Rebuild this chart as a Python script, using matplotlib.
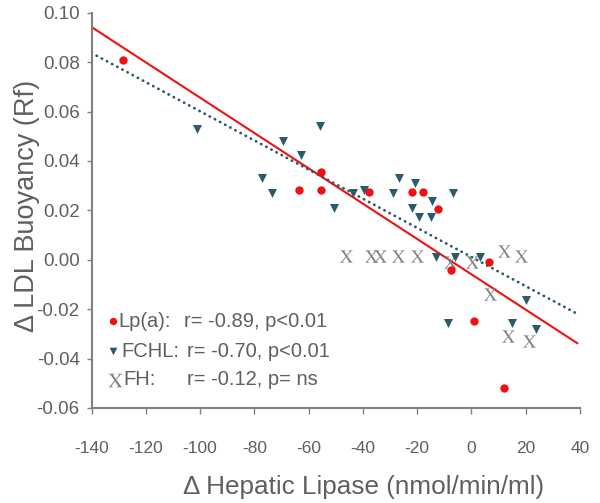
import matplotlib
matplotlib.use("Agg")
import matplotlib.pyplot as plt
import numpy as np

plt.rcParams["font.family"] = ["Liberation Sans", "DejaVu Sans"]
plt.rcParams["mathtext.fontset"] = "stix"
plt.rcParams["axes.unicode_minus"] = False

# Lp(a) group (red dots)
lpa_x = [-128.4, -55.5, -63.7, -55.5, -37.7, -21.8, -17.9, -12.4, -7.6, 6.6, 1.0, 12.1]
lpa_y = [0.0807, 0.0356, 0.0283, 0.0283, 0.0273, 0.0273, 0.0273, 0.0205, -0.0041, -0.0009, -0.0249, -0.052]

# FCHL group (triangles)
fchl_x = [-101.0, -69.5, -55.7, -62.7, -77.1, -73.6, -50.8, -43.8, -39.7, -28.9, -26.7, -20.8,
          -14.4, -21.8, -19.3, -15.0, -6.8, -13.1, -5.9, 3.2, 20.1, -8.7, 15.1, 23.8]
fchl_y = [0.0531, 0.0481, 0.0542, 0.0423, 0.0329, 0.0271, 0.0209, 0.0271, 0.0282, 0.0270, 0.0330, 0.0311,
          0.0237, 0.0208, 0.0174, 0.0174, 0.0271, 0.0010, 0.0010, 0.0010, -0.0161, -0.0255, -0.0255, -0.0282]

# FH group (X)
fh_x = [-46.2, -37.1, -33.7, -27.2, -20.2, -7.9, 0.1, 12.0, 18.1, 6.8, 13.4, 21.3]
fh_y = [0.0015, 0.0015, 0.0015, 0.0015, 0.0015, -0.0008, -0.0008, 0.0036, 0.0014, -0.0139, -0.0307, -0.0327]

# regression lines (slope, intercept)
lpa_fit = (-0.000715, -0.0059)
fchl_fit = (-0.00059, 0.0011)
fit_x = [-140, 39]

legend_labels = ["Lp(a):", "FCHL:", "FH:"]
legend_stats = ["r= -0.89, p<0.01", "r= -0.70, p<0.01", "r= -0.12, p= ns"]

RED = "#ee1111"
TEAL = "#2c5a6b"
GRAY = "#5f5f5f"
XGRAY = "#808080"

fig = plt.figure(figsize=(6.0, 5.03), dpi=100)
ax = fig.add_axes([0.1525, 0.1889, 0.8142, 0.7859])

fx = np.array(fit_x, dtype=float)
ax.plot(fx, np.polyval(lpa_fit, fx), color=RED, lw=1.5, zorder=2)
ax.plot(fx, np.polyval(fchl_fit, fx), color=TEAL, lw=2.0, ls=(0, (0.1, 2.0)),
        dash_capstyle="round", zorder=2)

ax.scatter(fh_x, fh_y, marker=r"$\mathrm{X}$", s=85, color=XGRAY, linewidths=0, zorder=3)
ax.scatter(fchl_x, fchl_y, marker="v", s=42, color=TEAL, linewidths=0, zorder=4)
ax.scatter(lpa_x, lpa_y, marker="o", s=36, color=RED, linewidths=0, zorder=5)

ax.set_xlim(-140, 40)
ax.set_ylim(-0.06, 0.10)
ax.set_xticks(np.arange(-140, 41, 20))
ax.set_yticks(np.arange(-0.06, 0.101, 0.02))
ax.set_yticklabels([f"{v:.2f}" for v in np.arange(-0.06, 0.101, 0.02)])

for s in ["top", "right"]:
    ax.spines[s].set_visible(False)
for s in ["left", "bottom"]:
    ax.spines[s].set_color("#808080")
    ax.spines[s].set_linewidth(1.5)

ax.tick_params(axis="x", direction="out", length=4, width=1, color="#808080",
               labelsize=12.5, labelcolor=GRAY, pad=20)
ax.tick_params(axis="y", direction="out", length=3.5, width=1, color="#808080",
               labelsize=13.5, labelcolor=GRAY, pad=5)

ax.text(0.556, -0.2, "\u0394 Hepatic Lipase (nmol/min/ml)", transform=ax.transAxes,
        ha="center", va="center", fontsize=18.8, color=GRAY)
ax.text(-0.132, 0.511, "\u0394 LDL Buoyancy (Rf)", transform=ax.transAxes, rotation=90,
        ha="center", va="center", fontsize=19.5, color=GRAY)

# legend drawn by hand
rows_y = [0.220, 0.144, 0.072]
label_x = [0.0549, 0.0618, 0.065]
stat_x = [0.19, 0.195, 0.195]
marker_x = [0.0434, 0.0434, 0.048]
ax.scatter([marker_x[0]], [rows_y[0]], transform=ax.transAxes, marker="o", s=28,
           color=RED, linewidths=0, clip_on=False)
ax.scatter([marker_x[1]], [rows_y[1]], transform=ax.transAxes, marker="v", s=30,
           color=TEAL, linewidths=0, clip_on=False)
ax.scatter([marker_x[2]], [rows_y[2]], transform=ax.transAxes, marker=r"$\mathrm{X}$", s=105,
           color=XGRAY, linewidths=0, clip_on=False)
for i in range(3):
    ax.text(label_x[i], rows_y[i], legend_labels[i], transform=ax.transAxes,
            ha="left", va="center", fontsize=14.5, color=GRAY)
    ax.text(stat_x[i], rows_y[i], legend_stats[i], transform=ax.transAxes,
            ha="left", va="center", fontsize=14.5, color=GRAY)

fig.savefig("out.png", dpi=100)
